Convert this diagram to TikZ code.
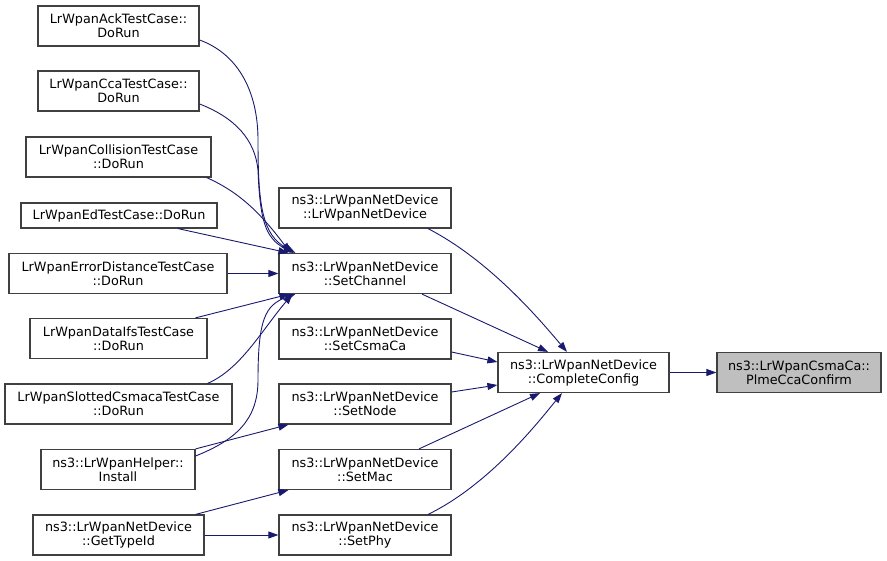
\documentclass[tikz,border=0pt]{standalone}
\usepackage{fontspec}
\setmainfont{DejaVu Sans}
\usetikzlibrary{arrows.meta}
\definecolor{edgec}{HTML}{191970}
\definecolor{boxc}{HTML}{404040}
\definecolor{hlc}{HTML}{BFBFBF}
\tikzset{
  box/.style={draw=boxc, line width=1.2pt, fill=white, inner sep=0pt, align=center,
    minimum height=40pt, font=\fontsize{12.8}{14}\selectfont},
  onebox/.style={box, minimum height=25pt},
  hlbox/.style={box, fill=hlc},
  edge/.style={draw=edgec, line width=0.9pt, -{Triangle[length=10pt,width=7pt]}},
}
\begin{document}
\begin{tikzpicture}[x=1pt,y=-1pt]
\useasboundingbox (0,0) rectangle (887,561);
% left column
\node[box, minimum width=161pt] (ack) at (118.5,26) {LrWpanAckTestCase::\\DoRun};
\node[box, minimum width=161pt] (cca) at (118.5,91) {LrWpanCcaTestCase::\\DoRun};
\node[box, minimum width=185pt] (col) at (118.5,157) {LrWpanCollisionTestCase\\::DoRun};
\node[onebox, minimum width=196pt] (ed) at (119,215.5) {LrWpanEdTestCase::DoRun};
\node[box, minimum width=218pt] (err) at (118,273.5) {LrWpanErrorDistanceTestCase\\::DoRun};
\node[box, minimum width=177pt] (ifs) at (118.5,338.5) {LrWpanDataIfsTestCase\\::DoRun};
\node[box, minimum width=227pt] (slot) at (118.5,404) {LrWpanSlottedCsmacaTestCase\\::DoRun};
\node[box, minimum width=154pt] (inst) at (118,469.5) {ns3::LrWpanHelper::\\Install};
\node[box, minimum width=171pt] (gti) at (118.5,535) {ns3::LrWpanNetDevice\\::GetTypeId};
% middle column
\node[box, minimum width=172pt] (lnd) at (365,208) {ns3::LrWpanNetDevice\\::LrWpanNetDevice};
\node[box, minimum width=172pt] (sch) at (365,273.5) {ns3::LrWpanNetDevice\\::SetChannel};
\node[box, minimum width=172pt] (scs) at (365,339) {ns3::LrWpanNetDevice\\::SetCsmaCa};
\node[box, minimum width=172pt] (snd) at (365,404) {ns3::LrWpanNetDevice\\::SetNode};
\node[box, minimum width=172pt] (smc) at (365,469.5) {ns3::LrWpanNetDevice\\::SetMac};
\node[box, minimum width=172pt] (sph) at (365,535) {ns3::LrWpanNetDevice\\::SetPhy};
% right
\node[box, minimum width=171pt] (cc) at (583.5,372.5) {ns3::LrWpanNetDevice\\::CompleteConfig};
\node[hlbox, minimum width=164pt] (pcc) at (799,372.5) {ns3::LrWpanCsmaCa::\\PlmeCcaConfirm};
% edges to SetChannel
\draw[edge] ([yshift=-14pt]ack.east) .. controls +(41,15) and (258,95) .. (258,140)
  .. controls (258,205) and (262,235) .. ([xshift=17pt]sch.north west);
\draw[edge] ([yshift=-13pt]cca.east) .. controls +(36,14) and (255,140) .. (258,170)
  .. controls (260,220) and (265,238) .. ([xshift=15pt]sch.north west);
\draw[edge] ([xshift=-5pt]col.south east) .. controls +(34,15) and (262,215) .. ([xshift=12pt]sch.north west);
\draw[edge] ([xshift=59pt]ed.south) -- ([xshift=10pt]sch.north west);
\draw[edge] (err.east) -- (sch.west);
\draw[edge] ([xshift=77pt]ifs.north) -- ([xshift=11pt]sch.south west);
\draw[edge] ([xshift=89pt]slot.north) .. controls +(33,-14) and (262,330) .. ([xshift=14pt]sch.south west);
\draw[edge] ([yshift=13.5pt]inst.east) .. controls +(40,-16) and (258,420) .. (258,380)
  .. controls (258,320) and (265,305) .. ([xshift=17pt]sch.south west);
% other left edges
\draw[edge] (inst.north east) -- ([xshift=10pt]snd.south west);
\draw[edge] ([xshift=-9pt]gti.north east) -- ([xshift=10pt]smc.south west);
\draw[edge] (gti.east) -- (sph.west);
% middle to CompleteConfig
\draw[edge] ([xshift=63pt]lnd.south) .. controls +(62,32) and (540,320) .. ([xshift=-16.5pt]cc.north);
\draw[edge] ([xshift=57pt]sch.south) -- ([xshift=-35.5pt]cc.north);
\draw[edge] ([yshift=-13pt]scs.east) -- ([yshift=10.5pt]cc.west);
\draw[edge] ([yshift=12pt]snd.east) -- ([yshift=-12.5pt]cc.west);
\draw[edge] ([xshift=54pt]smc.north) -- ([xshift=-43.5pt]cc.south);
\draw[edge] ([xshift=63pt]sph.north) .. controls +(62,-30) and (540,420) .. ([xshift=-21.5pt]cc.south);
\draw[edge] (cc.east) -- (pcc.west);
\end{tikzpicture}
\end{document}
